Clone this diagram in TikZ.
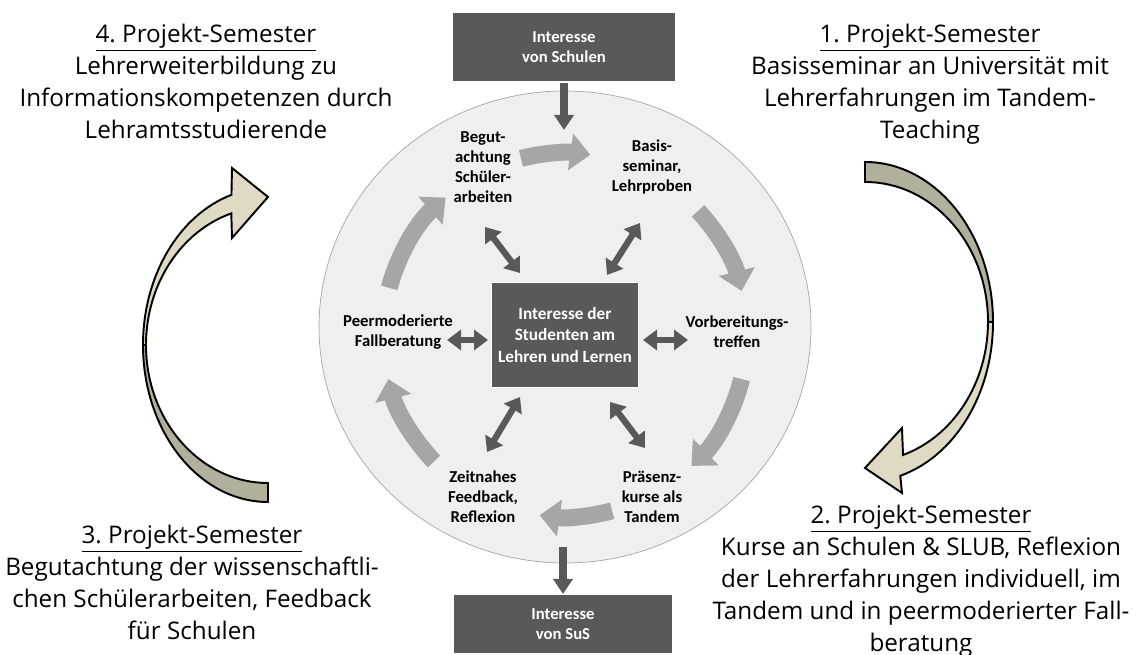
\documentclass[tikz,border=0pt]{standalone}
\usepackage{fontspec}
\setmainfont{Open Sans}
\newfontfamily\carlito{Carlito}
\usetikzlibrary{arrows.meta,calc}
\definecolor{boxgray}{HTML}{595959}
\definecolor{ringgray}{HTML}{EFEFEF}
\definecolor{cycgray}{HTML}{A6A6A6}
\definecolor{beigelight}{HTML}{DEDAC4}
\definecolor{beigedark}{HTML}{B2AF9C}
\frenchspacing

\begin{document}
\begin{tikzpicture}[x=0.02cm,y=0.02cm,
  semtext/.style={align=center,font=\fontsize{13.8}{18.2}\selectfont},
  steplabel/.style={align=center,font=\carlito\bfseries\fontsize{9.5}{11.4}\selectfont},
  interest/.style={fill=boxgray,draw=white,line width=0.6pt,text=white,align=center,
    font=\carlito\bfseries\fontsize{9.5}{11.4}\selectfont},
  flow/.style={boxgray,line width=4.5pt,-{Triangle[length=0.3cm,width=0.38cm]}},
  twoway/.style={boxgray,line width=3.6pt,{Triangle[length=0.28cm,width=0.4cm]}-{Triangle[length=0.28cm,width=0.4cm]}},
  cycarrow/.style={cycgray,line width=0.34cm,-{Triangle[length=0.4cm,width=0.72cm]}},
  bigarrow/.style={draw=black,line width=1.1pt,line join=miter}]
\useasboundingbox (0,0) rectangle (1137,655);
\draw[fill=ringgray,draw=gray!70] (565,328) ellipse [x radius=246,y radius=236];
\coordinate (cyc) at (565,320);
\foreach \a/\b in {104/82,43/14,-14/-46,-75/-98,224/194,165/131}
  \draw[cycarrow] ($(cyc)+(\a:182)$) arc[start angle=\a,end angle=\b,radius=182];
\node[interest,minimum width=4.46cm,minimum height=1.4cm] (sch) at (564,608) {Interesse\\von Schulen};
\node[interest,minimum width=4.4cm,minimum height=1.18cm] (sus) at (563,31) {Interesse\\von SuS};
\node[interest,minimum width=2.94cm,minimum height=2.1cm,
  font=\carlito\bfseries\fontsize{9.8}{12.5}\selectfont] (stud) at (565,320) {Interesse der\\Studenten am\\Lehren und Lernen};
\node[steplabel] (beg) at (483,488) {Begut-\\achtung\\Schüler-\\arbeiten};
\node[steplabel] (bas) at (652,488) {Basis-\\seminar,\\Lehrproben};
\node[steplabel] (peer) at (398,323) {Peermoderierte\\Fallberatung};
\node[steplabel] (vor) at (737,323) {Vorbereitungs-\\treffen};
\node[steplabel] (zeit) at (483,158) {Zeitnahes\\Feedback,\\Reflexion};
\node[steplabel] (prae) at (652,158) {Präsenz-\\kurse als\\Tandem};
\foreach \p/\q in {{-80,108}/{-45,62},{75,112}/{42,60},{-118,-5}/{-77,-5},
                   {78,-5}/{123,-5},{-45,-62}/{-78,-117},{45,-67}/{80,-113}}
  \draw[twoway] ($(stud)+(\p)$) -- ($(stud)+(\q)$);
\coordinate (schend) at (564,525);
\coordinate (susstart) at (563,108);
\draw[flow] (sch) -- (schend);
\draw[flow] (susstart) -- (sus);
\filldraw[bigarrow,fill=beigedark] (865,493) arc[start angle=90,end angle=0,x radius=128,y radius=160]
  -- (988,333) arc[start angle=0,end angle=90,x radius=123,y radius=140] -- cycle;
\filldraw[bigarrow,fill=beigelight] (993,333) arc[start angle=0,end angle=-74,x radius=128,y radius=160]
  -- (902,162) -- (865,187) -- (902,227) -- (903,200)
  arc[start angle=-72,end angle=0,x radius=123,y radius=140] -- cycle;
\filldraw[bigarrow,fill=beigelight] (143,310) arc[start angle=180,end angle=107,x radius=125,y radius=157]
  -- (232,487) -- (268,458) -- (232,417) -- (231.3,441.6)
  arc[start angle=107.5,end angle=180,x radius=122,y radius=138] -- cycle;
\filldraw[bigarrow,fill=beigedark] (143,310) arc[start angle=180,end angle=270,x radius=125,y radius=157]
  -- (268,172) arc[start angle=270,end angle=180,x radius=122,y radius=138] -- cycle;
\node[semtext] (sem1) at (930,571) {\underline{1. Projekt-Semester}\\Basisseminar an Universität mit\\Lehrerfahrungen im Tandem-\\Teaching};
\node[semtext] (sem4) at (206,574) {\underline{4. Projekt-Semester}\\Lehrerweiterbildung zu\\Informationskompetenzen durch\\Lehramtsstudierende};
\node[semtext] (sem3) at (192,73) {\underline{3. Projekt-Semester}\\Begutachtung der wissenschaftli-\\chen Schülerarbeiten, Feedback\\für Schulen};
\node[semtext] (sem2) at (921,74) {\underline{2. Projekt-Semester}\\Kurse an Schulen \& SLUB, Reflexion\\der Lehrerfahrungen individuell, im\\Tandem und in peermoderierter Fall-\\beratung};
\end{tikzpicture}
\end{document}
